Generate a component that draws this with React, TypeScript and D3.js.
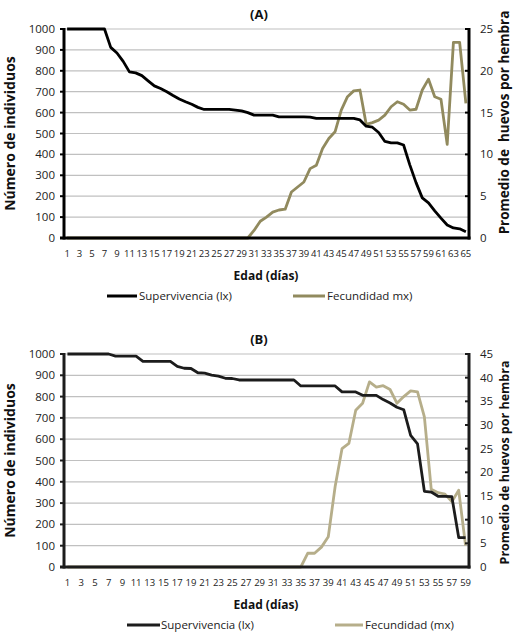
import React from "react";
import * as d3 from "d3";

const daysA = [1,2,3,4,5,6,7,8,9,10,11,12,13,14,15,16,17,18,19,20,21,22,23,24,25,26,27,28,29,30,31,32,33,34,35,36,37,38,39,40,41,42,43,44,45,46,47,48,49,50,51,52,53,54,55,56,57,58,59,60,61,62,63,64,65];
const survA = [1000,1000,1000,1000,1000,1000,1000,912,885,845,795,790,777,752,728,715,700,682,665,652,640,625,615,615,615,615,615,612,608,600,588,588,588,588,580,580,580,580,580,578,572,572,572,572,572,572,572,565,535,530,505,462,455,455,445,350,265,192,168,130,95,62,48,44,30];
const fecA = [0,0,0,0,0,0,0,0,0,0,0,0,0,0,0,0,0,0,0,0,0,0,0,0,0,0,0,0,0,0,0.9,2.0,2.5,3.1,3.35,3.45,5.5,6.1,6.7,8.3,8.7,10.7,11.9,12.7,15.3,16.9,17.6,17.7,13.6,13.8,14.1,14.7,15.7,16.3,16.0,15.3,15.4,17.7,19.0,16.9,16.6,11.2,23.4,23.4,16.1];

const daysB = [1,2,3,4,5,6,7,8,9,10,11,12,13,14,15,16,17,18,19,20,21,22,23,24,25,26,27,28,29,30,31,32,33,34,35,36,37,38,39,40,41,42,43,44,45,46,47,48,49,50,51,52,53,54,55,56,57,58,59];
const survB = [1000,1000,1000,1000,1000,1000,1000,990,990,990,990,965,965,965,965,965,942,933,932,912,910,901,896,886,885,878,878,878,878,878,878,878,878,878,850,850,850,850,850,850,822,822,822,806,806,806,786,770,750,738,618,578,355,352,332,332,330,138,138];
const fecB = [0,0,0,0,0,0,0,0,0,0,0,0,0,0,0,0,0,0,0,0,0,0,0,0,0,0,0,0,0,0,0,0,0,0,0,2.9,2.9,4.2,6.4,17.0,25.0,26.1,33.1,34.6,39.1,38.0,38.3,37.5,34.6,36.0,37.2,37.0,31.7,16.4,15.7,15.4,13.8,16.2,4.5];

const leftTicks = [0,100,200,300,400,500,600,700,800,900,1000];
const rightTicksA = [0,5,10,15,20,25];
const rightTicksB = [0,5,10,15,20,25,30,35,40,45];

const FONT = "'Open Sans', sans-serif";

type PanelProps = {
  days: number[];
  surv: number[];
  fec: number[];
  rTicks: number[];
  top: number;
  bottom: number;
  title: string;
  fecLabel: string;
  rightTitle: string;
  rightTitleSize: number;
  rightTitleShift: number;
  blackColor: string;
  fecColor: string;
  legendY: number;
  legendA: [number, number, number];
  legendB: [number, number, number];
};

function Panel(p: PanelProps) {
  const left = 64, right = 469;
  const x = d3.scaleBand<number>().domain(p.days).range([left, right]).padding(0);
  const cx = (d: number) => (x(d) as number) + x.bandwidth() / 2;
  const yL = d3.scaleLinear().domain([0, 1000]).range([p.bottom, p.top]);
  const rMax = p.rTicks[p.rTicks.length - 1];
  const yR = d3.scaleLinear().domain([0, rMax]).range([p.bottom, p.top]);
  const lineS = d3.line<number>().x((_, i) => cx(p.days[i])).y((v) => yL(v));
  const lineF = d3.line<number>().x((_, i) => cx(p.days[i])).y((v) => yR(v));
  const midY = (p.top + p.bottom) / 2;
  return (
    <g>
      {leftTicks.map((t) => (
        <line key={"g" + t} x1={left} x2={right} y1={yL(t)} y2={yL(t)} stroke="#c0c0c0" strokeWidth={1.2} />
      ))}
      <path d={lineF(p.fec) || ""} fill="none" stroke={p.fecColor} strokeWidth={2.8} strokeLinejoin="round" />
      <path d={lineS(p.surv) || ""} fill="none" stroke={p.blackColor} strokeWidth={2.8} strokeLinejoin="round" />
      <line x1={left} x2={left} y1={p.top - 1} y2={p.bottom + 1.5} stroke={p.blackColor} strokeWidth={3} />
      <line x1={right} x2={right} y1={p.top - 1} y2={p.bottom + 1.5} stroke={p.blackColor} strokeWidth={3} />
      <line x1={left - 4} x2={right + 1.5} y1={p.bottom} y2={p.bottom} stroke={p.blackColor} strokeWidth={3} />
      {leftTicks.map((t) => (
        <g key={"l" + t}>
          <line x1={left - 4} x2={left} y1={yL(t)} y2={yL(t)} stroke={p.blackColor} strokeWidth={2} />
          <text x={55} y={yL(t) + 4} textAnchor="end" fontSize={11.5} fontFamily={FONT} fill="#222">{t}</text>
        </g>
      ))}
      {p.rTicks.map((t) => (
        <g key={"r" + t}>
          <line x1={right - 4} x2={right} y1={yR(t)} y2={yR(t)} stroke={p.blackColor} strokeWidth={2} />
          <text x={480} y={yR(t) + 4} textAnchor="start" fontSize={11.5} fontFamily={FONT} fill="#222">{t}</text>
        </g>
      ))}
      {p.days.filter((d) => d % 2 === 1).map((d) => (
        <text key={"x" + d} x={cx(d)} y={p.bottom + 19} textAnchor="middle" fontSize={9.5} fontFamily={FONT} fill="#222">{d}</text>
      ))}
      <text x={259} y={p.top - 10} textAnchor="middle" fontSize={13} fontWeight="bold" fontFamily={FONT} fill="#111">{p.title}</text>
      <text x={266} y={p.bottom + 42} textAnchor="middle" fontSize={12} fontWeight="bold" fontFamily={FONT} fill="#111">Edad (días)</text>
      <text transform={`translate(15,${midY}) rotate(-90)`} textAnchor="middle" fontSize={14} fontWeight="bold" fontFamily={FONT} fill="#111">Número de individuos</text>
      <text transform={`translate(509,${midY + p.rightTitleShift}) rotate(-90)`} textAnchor="middle" fontSize={p.rightTitleSize} fontWeight="bold" fontFamily={FONT} fill="#111" style={{ whiteSpace: "pre" }}>{p.rightTitle}</text>
      <line x1={p.legendA[0]} x2={p.legendA[1]} y1={p.legendY} y2={p.legendY} stroke={p.blackColor} strokeWidth={3} />
      <text x={p.legendA[2]} y={p.legendY + 4} fontSize={11.5} fontFamily={FONT} fill="#222">Supervivencia (lx)</text>
      <line x1={p.legendB[0]} x2={p.legendB[1]} y1={p.legendY} y2={p.legendY} stroke={p.fecColor} strokeWidth={3} />
      <text x={p.legendB[2]} y={p.legendY + 4} fontSize={11.5} fontFamily={FONT} fill="#222">{p.fecLabel}</text>
    </g>
  );
}

export default function App() {
  return (
    <svg width={513} height={636} style={{ position: "absolute", left: 0, top: 0, background: "#fff" }}>
      <rect width={513} height={636} fill="#fff" />
      <Panel days={daysA} surv={survA} fec={fecA} rTicks={rightTicksA} top={29} bottom={238}
        title="(A)" fecLabel="Fecundidad mx)" rightTitle="Promedio de  huevos por hembra" rightTitleSize={13.5} rightTitleShift={-11}
        blackColor="#000" fecColor="#918a5e" legendY={296} legendA={[107, 137, 139]} legendB={[293, 325, 327]} />
      <Panel days={daysB} surv={survB} fec={fecB} rTicks={rightTicksB} top={354} bottom={567}
        title="(B)" fecLabel="Fecundidad (mx)" rightTitle="Promedio de huevos por hembra" rightTitleSize={12.5} rightTitleShift={2}
        blackColor="#1c1c1c" fecColor="#b6ae8a" legendY={625} legendA={[127, 160, 161]} legendB={[335, 363, 365]} />
    </svg>
  );
}
